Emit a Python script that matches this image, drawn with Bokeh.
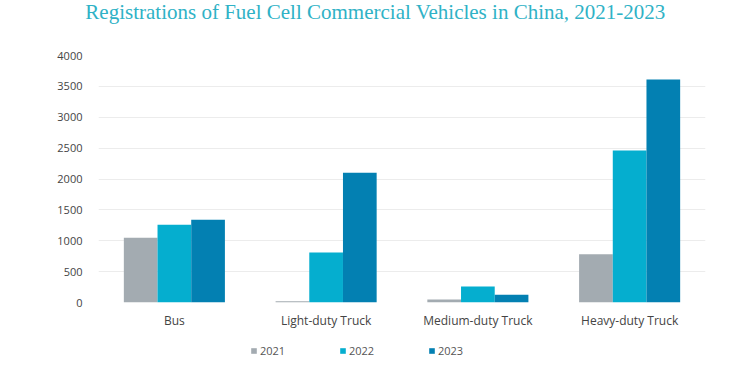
from bokeh.plotting import figure
from bokeh.layouts import column
from bokeh.models import ColumnDataSource, FactorRange, Range1d, Legend, LegendItem, Label
from bokeh.transform import dodge
from bokeh.embed import file_html
from bokeh.resources import INLINE

categories = ["Bus", "Light-duty Truck", "Medium-duty Truck", "Heavy-duty Truck"]
years = ["2021", "2022", "2023"]
v2021 = [1050, 20, 50, 780]
v2022 = [1260, 810, 260, 2460]
v2023 = [1340, 2100, 125, 3610]
colors = ["#a3abb1", "#05aecf", "#0380b2"]
yticks = [0, 500, 1000, 1500, 2000, 2500, 3000, 3500, 4000]
title_text = "Registrations of Fuel Cell Commercial Vehicles in China, 2021-2023"

# --- title strip ---
t = figure(width=750, height=28, output_backend="svg", toolbar_location=None,
           x_axis_type=None, y_axis_type=None, x_range=Range1d(0, 1), y_range=Range1d(0, 1),
           min_border=0, frame_align=False)
t.outline_line_color = None
t.grid.grid_line_color = None
t.add_layout(Label(x=375, y=17, x_units="screen", y_units="screen", text=title_text,
                   text_font="Liberation Serif", text_font_size="21px", text_color="#2fb2c6",
                   text_align="center", text_baseline="alphabetic"))

# --- main chart ---
src = ColumnDataSource(dict(cat=categories, y2021=v2021, y2022=v2022, y2023=v2023))
p = figure(x_range=FactorRange(*categories, range_padding=0), y_range=Range1d(0, 4000),
           width=750, height=312, output_backend="svg", toolbar_location=None,
           min_border_left=98, min_border_right=45, min_border_top=27, min_border_bottom=38,
           frame_align=False)

renderers = []
for i, (yr, col) in enumerate(zip(years, colors)):
    r = p.vbar(x=dodge("cat", (i - 1) * 0.222, range=p.x_range), top="y" + yr, width=0.222,
               source=src, fill_color=col, line_color=None)
    renderers.append(r)

p.outline_line_color = None
p.xgrid.grid_line_color = None
p.ygrid.grid_line_color = "#ececec"
p.ygrid.grid_line_width = 1
p.yaxis.ticker = yticks
for ax in (p.xaxis[0], p.yaxis[0]):
    ax.axis_line_color = None
    ax.major_tick_line_color = None
    ax.minor_tick_line_color = None
    ax.major_label_text_font = "Open Sans"
    ax.major_label_text_color = "#444444"
p.yaxis.major_label_text_font_size = "11px"
p.yaxis.major_label_standoff = 10
p.xaxis.major_label_text_font_size = "12px"
p.xaxis.major_label_standoff = 3

# --- legend strip ---
lf = figure(width=750, height=35, output_backend="svg", toolbar_location=None,
            x_axis_type=None, y_axis_type=None, x_range=Range1d(0, 1), y_range=Range1d(0, 1),
            min_border=0, frame_align=False)
lf.outline_line_color = None
lf.grid.grid_line_color = None
items = []
for yr, col in zip(years, colors):
    # swatch-only renderer, placed outside the visible range
    rr = lf.vbar(x=[5], top=[1], width=0.1, fill_color=col, line_color=None)
    items.append(LegendItem(label=yr, renderers=[rr]))
legend = Legend(items=items, orientation="horizontal", location=(250, 17),
                glyph_width=7, glyph_height=7, label_standoff=3, label_width=79, label_height=12,
                spacing=0, padding=0, margin=0, border_line_color=None, background_fill_alpha=0,
                label_text_font="Open Sans", label_text_font_size="11px", label_text_color="#555555")
lf.add_layout(legend, "center")

layout = column(t, p, lf, spacing=0)
open("out.html", "w").write(file_html(layout, INLINE))
